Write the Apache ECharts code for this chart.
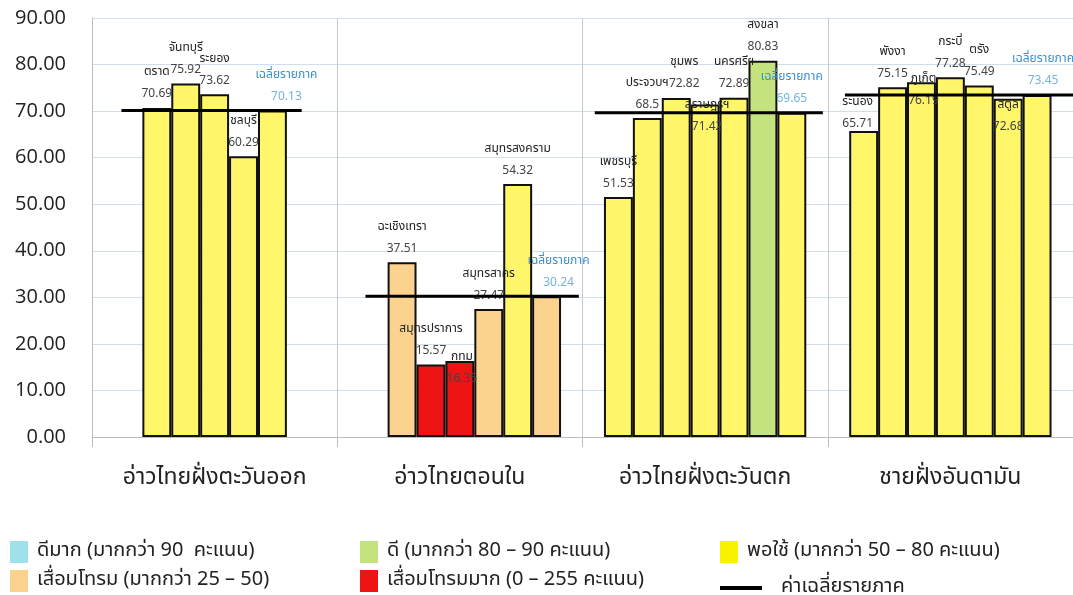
<!DOCTYPE html>
<html><head><meta charset="utf-8">
<script src="https://cdn.jsdelivr.net/npm/echarts@6/dist/echarts.min.js"></script>
<style>html,body{margin:0;padding:0;background:#fff}#c{width:1073px;height:595px}</style>
</head><body><div id="c"></div>
<script>
// ---- data ----
const groups = ['อ่าวไทยฝั่งตะวันออก','อ่าวไทยตอนใน','อ่าวไทยฝั่งตะวันตก','ชายฝั่งอันดามัน'];
const eastNames = ['ตราด','จันทบุรี','ระยอง','ชลบุรี','เฉลี่ยรายภาค'];
const eastValues = [70.69,75.92,73.62,60.29,70.13];
const innerNames = ['ฉะเชิงเทรา','สมุทรปราการ','กทม','สมุทรสาคร','สมุทรสงคราม','เฉลี่ยรายภาค'];
const innerValues = [37.51,15.57,16.35,27.47,54.32,30.24];
const westNames = ['เพชรบุรี','ประจวบฯ','ชุมพร','สุราษฎร์ฯ','นครศรีฯ','สงขลา','เฉลี่ยรายภาค'];
const westValues = [51.53,68.5,72.82,71.42,72.89,80.83,69.65];
const andamanNames = ['ระนอง','พังงา','ภูเก็ต','กระบี่','ตรัง','สตูล','เฉลี่ยรายภาค'];
const andamanValues = [65.71,75.15,76.19,77.28,75.49,72.68,73.45];
const regionAverages = [70.13,30.24,69.65,73.45];
const classNames = ['ดีมาก (มากกว่า 90  คะแนน)','ดี (มากกว่า 80 – 90 คะแนน)','พอใช้ (มากกว่า 50 – 80 คะแนน)','เสื่อมโทรม (มากกว่า 25 – 50)','เสื่อมโทรมมาก (0 – 255 คะแนน)'];
const classLower = [90,80,50,25,0];
const avgName = 'ค่าเฉลี่ยรายภาค';
const avgBarName = 'เฉลี่ยรายภาค';

// ---- style ----
const classColors = ['#9FE1EB','#C4E37E','#FFF66A','#FCD38E','#EE1414'];
const legendColors = ['#9FE1EB','#C4E37E','#F8F200','#FCD38E','#EE1414'];
const FONT = "'Noto Sans Thai','Tahoma','Noto Sans','DejaVu Sans',sans-serif";
const startSlot = [1,1,0,0];
const labelOffsets = {'กทม':[2,32],'สุราษฎร์ฯ':[2,36],'ภูเก็ต':[2,32],'สตูล':[0,42],'ชุมพร':[8,0],'ระนอง':[-6,6]};
const avgOffsets = [[14,0],[12,0],[0,0],[6,0]];
const lineSpans = [[0.12,0.855],[0.115,0.985],[0.05,0.98],[0.07,1.0]];

const groupNames = [eastNames, innerNames, westNames, andamanNames];
const groupValues = [eastValues, innerValues, westValues, andamanValues];

function classIndex(v){ for(let i=0;i<classLower.length;i++){ if(v>classLower[i]) return i; } return 4; }

const SLOTS = 7;
const barSeries = [];
for (let s=0; s<SLOTS; s++){
  const data = groups.map((g,gi)=>{
    const idx = s - startSlot[gi];
    const vals = groupValues[gi], names = groupNames[gi];
    if (idx<0 || idx>=vals.length) return '-';
    const v = vals[idx], nm = names[idx];
    const isAvg = nm===avgBarName;
    const off = isAvg ? avgOffsets[gi] : (labelOffsets[nm]||[0,0]);
    return {
      value: v,
      itemStyle:{color: classColors[classIndex(v)]},
      label:{
        offset: off,
        formatter: isAvg ? ('{an|'+nm+'}\n{av|'+v+'}') : ('{n|'+nm+'}\n{v|'+v+'}')
      }
    };
  });
  barSeries.push({
    type:'bar', name:'slot'+s, data, barGap:'0%', barCategoryGap:'17.5%',
    itemStyle:{borderColor:'#111', borderWidth:2},
    label:{show:true, position:'top', distance:2,
      rich:{
        n:{fontFamily:FONT,fontSize:12,color:'#222',lineHeight:22},
        v:{fontFamily:FONT,fontSize:12,color:'#444',lineHeight:22},
        an:{fontFamily:FONT,fontSize:12,color:'#3a90cf',lineHeight:22},
        av:{fontFamily:FONT,fontSize:12,color:'#74b4d9',lineHeight:22}
      }},
    z:2
  });
}

const lineSeries = regionAverages.map((a,gi)=>({
  type:'line', name: avgName, xAxisIndex:1, yAxisIndex:0,
  data:[[gi+lineSpans[gi][0], a],[gi+lineSpans[gi][1], a]],
  symbol:'none', lineStyle:{color:'#000', width:3}, itemStyle:{color:'#000'}, z:5, silent:true
}));

const legendDummies = classNames.map((n,i)=>({type:'scatter', name:n, xAxisIndex:1, data:[], itemStyle:{color:legendColors[i], opacity:1}}));

const legendCommon = {orient:'vertical', selectedMode:false, itemWidth:18, itemHeight:22, itemGap:7, icon:'rect', padding:0, height:60,
  textStyle:{fontFamily:FONT, fontSize:20, color:'#222', padding:[0,0,0,4]}};

const option = {
  animation:false,
  backgroundColor:'#fff',
  grid:{left:92, top:18, right:-3, bottom:158},
  xAxis:[
    {type:'category', data:groups, boundaryGap:true,
     axisLine:{show:true, lineStyle:{color:'#bdbdbd', width:1}},
     axisTick:{show:true, length:10, lineStyle:{color:'#bdbdbd'}},
     splitLine:{show:true, lineStyle:{color:'#c8c8c8', width:1}},
     axisLabel:{fontFamily:FONT, fontSize:23, color:'#222', margin:31}},
    {type:'value', min:0, max:4, show:false}
  ],
  yAxis:{type:'value', min:0, max:90, interval:10,
    axisLine:{show:true, lineStyle:{color:'#bdbdbd'}},
    axisTick:{show:false},
    splitLine:{lineStyle:{color:'#d3deec', width:1}},
    axisLabel:{fontFamily:"'Open Sans',sans-serif", fontSize:20, color:'#222', margin:26, formatter:v=>v.toFixed(2)}},
  legend:[
    Object.assign({}, legendCommon, {left:10, top:541, data:[classNames[0],classNames[3]]}),
    Object.assign({}, legendCommon, {left:360, top:541, data:[classNames[1],classNames[4]]}),
    Object.assign({}, legendCommon, {left:720, top:541, data:[classNames[2]]}),
    Object.assign({}, legendCommon, {left:720, top:578, itemWidth:42, itemHeight:4, height:20, data:[avgName],
      textStyle:{fontFamily:FONT, fontSize:20, color:'#222', padding:[0,0,0,14]}})
  ],
  series: barSeries.concat(lineSeries, legendDummies)
};
const chart = echarts.init(document.getElementById('c'));
chart.setOption(option);
</script></body></html>
